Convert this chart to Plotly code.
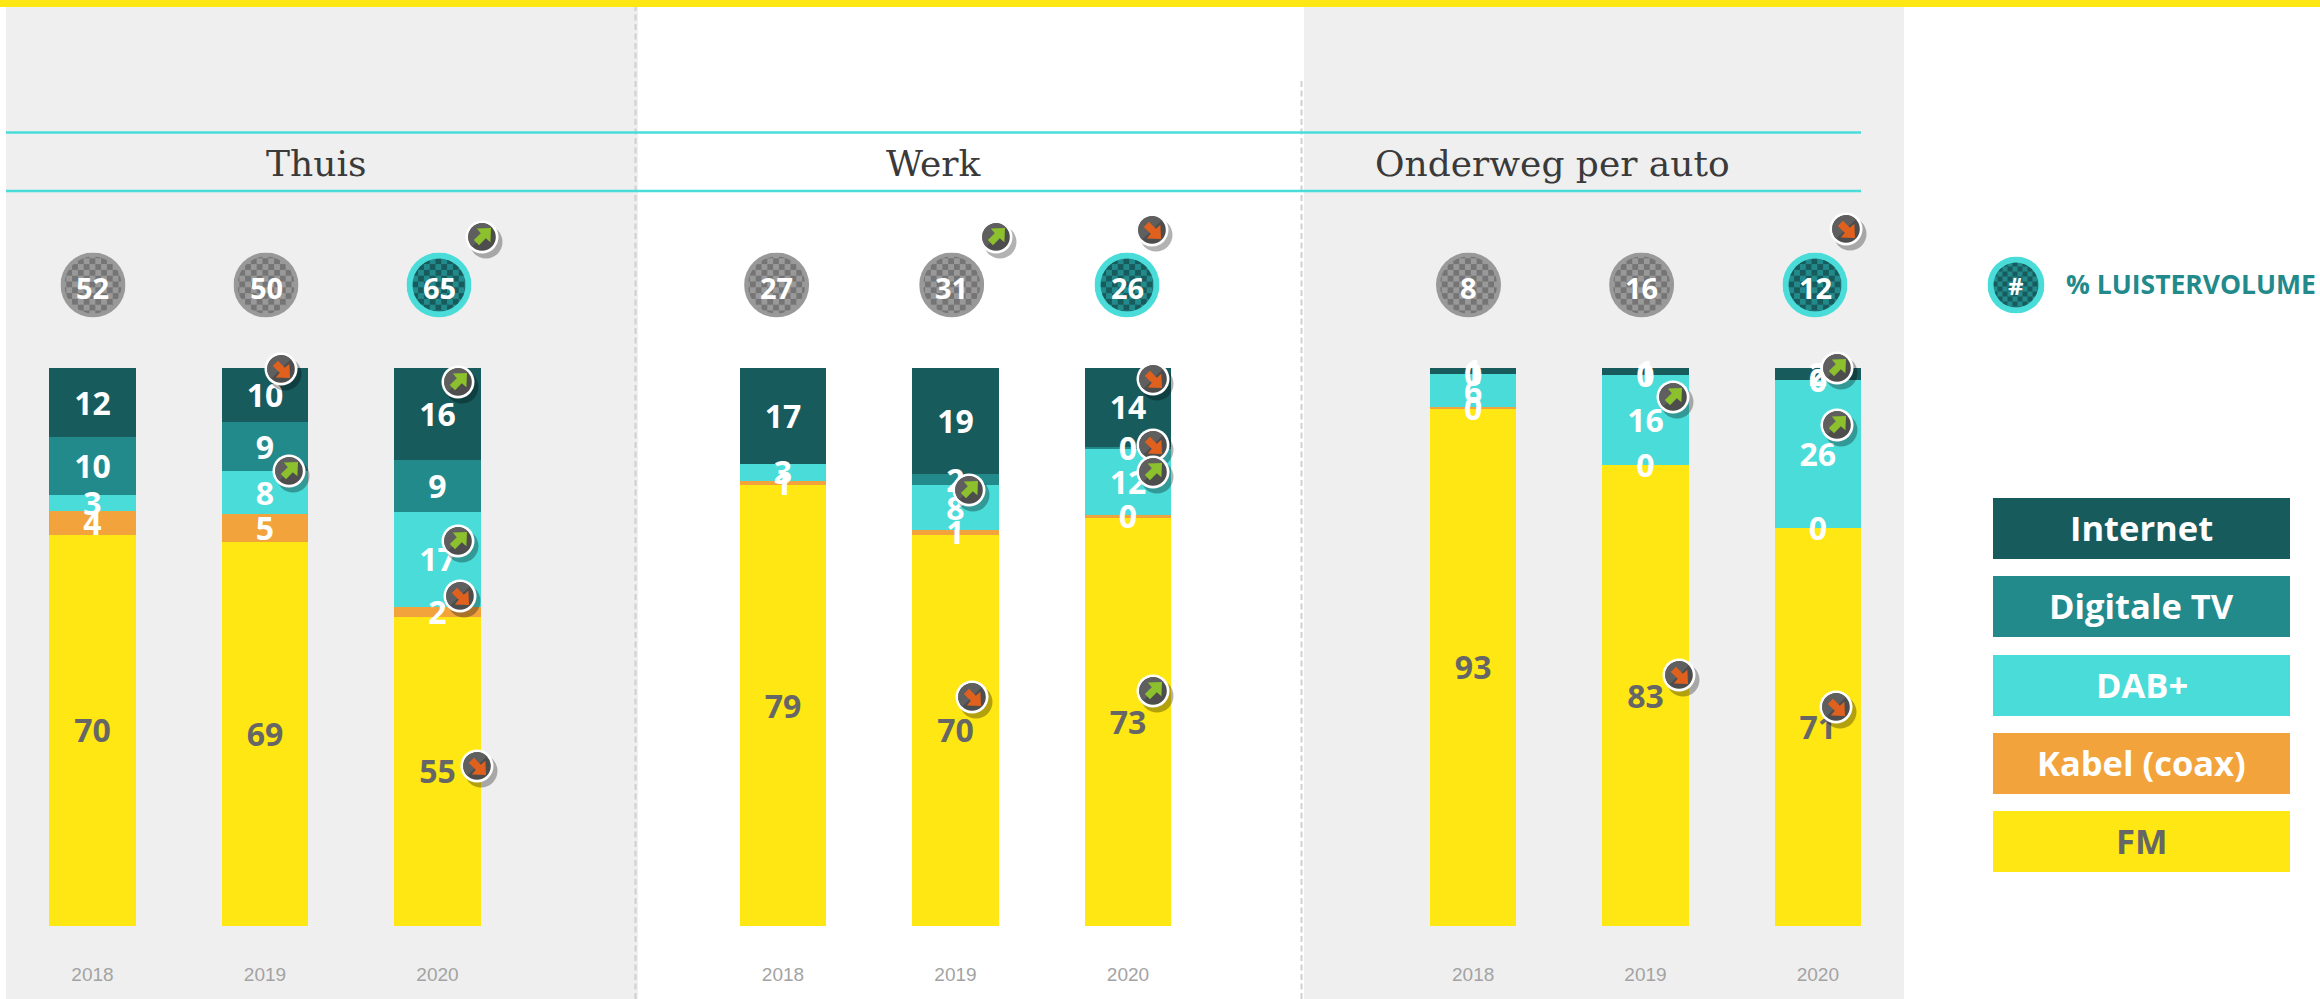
import base64
import plotly.graph_objects as go

W, H = 2320, 999

# ---------- data ----------
years = ["2018", "2019", "2020"]
panels = ["Thuis", "Werk", "Onderweg per auto"]
series = ["Internet", "Digitale TV", "DAB+", "Kabel (coax)", "FM"]

thuis_internet = [12.4, 9.7, 16.4]
thuis_digitale = [10.4, 8.8, 9.3]
thuis_dab = [2.9, 7.7, 17.0]
thuis_kabel = [4.2, 5.0, 1.8]
thuis_fm = [70.1, 68.8, 55.4]

werk_internet = [17.2, 19.0, 14.1]
werk_digitale = [None, 2.0, 0.3]
werk_dab = [3.0, 8.0, 12.0]
werk_kabel = [0.8, 0.9, 0.4]
werk_fm = [79.0, 70.1, 73.2]

auto_internet = [1.1, 1.3, 2.2]
auto_digitale = [0.0, 0.0, 0.0]
auto_dab = [5.9, 16.1, 26.4]
auto_kabel = [0.2, 0.0, 0.0]
auto_fm = [92.8, 82.6, 71.4]

totals_thuis = [52, 50, 65]
totals_werk = [27, 31, 26]
totals_auto = [8, 16, 12]

# ---------- styles ----------
colors = ["#185B5D", "#238A8C", "#4ADCD9", "#F2A33C", "#FFE713"]
label_colors = ["#FFFFFF", "#FFFFFF", "#FFFFFF", "#FFFFFF", "#666666"]
TEAL = "#4ADCD9"
PANEL = "#EFEFEF"
SANS = "Open Sans"

panel_data = [
    [thuis_internet, thuis_digitale, thuis_dab, thuis_kabel, thuis_fm],
    [werk_internet, werk_digitale, werk_dab, werk_kabel, werk_fm],
    [auto_internet, auto_digitale, auto_dab, auto_kabel, auto_fm],
]
panel_totals = [totals_thuis, totals_werk, totals_auto]
x_spans = [(6.25, 523.75), (696.75, 1214.25), (1387, 1904)]
circle_x = [[93, 266, 439], [776.6, 951.7, 1127], [1468.5, 1641.6, 1815]]
title_x = [316, 934, 1552]
CIRCLE_Y = 285
BAR_TOP, BAR_BOTTOM = 368, 926
LABEL_DROP = 4 / (BAR_BOTTOM - BAR_TOP) * 100


def px(x):
    return x / W


def py(y):
    return 1 - y / H


def uri(svg):
    return "data:image/svg+xml;base64," + base64.b64encode(svg.encode()).decode()


def circle_svg(ring, dark, light, ring_w, size=65, cell=5.8):
    r = size / 2
    return uri(
        f'<svg xmlns="http://www.w3.org/2000/svg" width="{size}" height="{size}" viewBox="0 0 {size} {size}">'
        f'<defs><pattern id="p" width="{2*cell}" height="{2*cell}" patternUnits="userSpaceOnUse">'
        f'<rect width="{2*cell}" height="{2*cell}" fill="{light}"/>'
        f'<rect width="{cell}" height="{cell}" fill="{dark}"/>'
        f'<rect x="{cell}" y="{cell}" width="{cell}" height="{cell}" fill="{dark}"/>'
        f'</pattern></defs><circle cx="{r}" cy="{r}" r="{r}" fill="{ring}"/>'
        f'<circle cx="{r}" cy="{r}" r="{r-ring_w}" fill="url(#p)"/></svg>'
    )


def badge_svg(up):
    fill = "#8CC02C" if up else "#E0611E"
    rot = 0 if up else 90
    return uri(
        '<svg xmlns="http://www.w3.org/2000/svg" width="48" height="48" viewBox="-24 -24 48 48">'
        '<circle cx="4" cy="5" r="16.5" fill="#000" fill-opacity="0.3"/>'
        '<circle r="16.5" fill="#fff"/><circle r="13.8" fill="#4D4D4D"/>'
        '<path d="M-13.8 0A13.8 13.8 0 0 1 9.8 -9.8L-9.8 9.8A13.8 13.8 0 0 1 -13.8 0Z" fill="#5F5F5F"/>'
        f'<path transform="rotate({rot})" d="M9 -9L8.4 5.2L3.8 1.2L-3 8.2L-8.2 3L-1.2 -3.8L-5.2 -8.4Z" fill="{fill}"/>'
        '</svg>'
    )


GRAY = circle_svg("#999999", "#757575", "#999999", 4)
TEALC = circle_svg(TEAL, "#185B5D", "#238A8C", 6)

# trend badges: direction and centre in the picture
badges = [
    (True, 482, 237), (False, 281, 369), (True, 289, 471), (True, 458, 382),
    (True, 458, 541), (False, 460, 596), (False, 477, 766),
    (True, 996, 237), (False, 1152, 230), (True, 969, 490), (False, 1153, 379),
    (False, 1153, 445), (True, 1153, 472), (False, 972, 697), (True, 1153, 691),
    (False, 1846, 229), (True, 1673, 397), (True, 1837, 368), (True, 1837, 425),
    (False, 1679, 675), (False, 1836, 707),
]

fig = go.Figure()
shapes, annotations, images = [], [], []

# panels and rules under the chart
for x0, x1 in [(6, 638), (1304, 1904)]:
    shapes.append(dict(type="rect", xref="paper", yref="paper", x0=px(x0), x1=px(x1), y0=0, y1=py(7),
                       fillcolor=PANEL, line_width=0, layer="below"))
shapes.append(dict(type="rect", xref="paper", yref="paper", x0=0, x1=1, y0=py(7), y1=1,
                   fillcolor="#FFE713", line_width=0, layer="below"))
for x, top in [(635.5, 7), (1301.5, 79)]:
    shapes.append(dict(type="line", xref="paper", yref="paper", x0=px(x), x1=px(x), y0=0, y1=py(top),
                       line=dict(color="#D0D0D0", width=2, dash="6px,3.5px"), layer="below"))
for y in (132.5, 191):
    shapes.append(dict(type="line", xref="paper", yref="paper", x0=px(6), x1=px(1861), y0=py(y), y1=py(y),
                       line=dict(color=TEAL, width=2.5), layer="below"))

# stacked bars and their value labels
for p, data in enumerate(panel_data):
    suffix = "" if p == 0 else str(p + 1)
    xa, ya = "x" + suffix, "y"
    for s in reversed(range(5)):
        fig.add_trace(go.Bar(x=years, y=data[s], name=series[s], marker=dict(color=colors[s], line_width=0),
                             xaxis=xa, yaxis=ya, hoverinfo="skip", showlegend=False))
    lx, ly, lt, lc = [], [], [], []
    for i, year in enumerate(years):
        vals = [data[s][i] for s in range(5)]
        total = sum(v or 0 for v in vals)
        base = 0.0
        for s in reversed(range(5)):
            v = vals[s]
            if v is None:
                continue
            share = v / total * 100
            lx.append(year)
            ly.append(base + share / 2 - LABEL_DROP)
            lt.append(f"{int(v + 0.5)}")
            lc.append(label_colors[s])
            base += share
    fig.add_trace(go.Scatter(x=lx, y=ly, text=lt, mode="text", xaxis=xa, yaxis=ya, cliponaxis=False,
                             textposition="middle center", hoverinfo="skip", showlegend=False,
                             textfont=dict(family=SANS, size=32, color=lc, weight="bold")))
    x0, x1 = x_spans[p]
    fig.update_layout({
        "xaxis" + suffix: dict(domain=[px(x0), px(x1)], type="category", categoryorder="array", categoryarray=years,
                               range=[-0.5, 2.5], anchor="y", showgrid=False, zeroline=False, showline=False,
                               ticks="outside", ticklen=31, tickcolor="rgba(0,0,0,0)", fixedrange=True,
                               tickfont=dict(family="Liberation Sans", size=19, color="#A3A3A3")),
    })
    # panel title
    annotations.append(dict(xref="paper", yref="paper", x=px(title_x[p]), y=py(163), text=panels[p], showarrow=False,
                            xanchor="center", yanchor="middle",
                            font=dict(family="DejaVu Serif", size=36, color="#3A3A3A")))
    # total circles
    for i, total in enumerate(panel_totals[p]):
        images.append(dict(source=TEALC if i == 2 else GRAY, xref="paper", yref="paper", x=px(circle_x[p][i]),
                           y=py(CIRCLE_Y), sizex=px(65), sizey=65 / H, xanchor="center", yanchor="middle",
                           sizing="stretch", layer="above"))
        annotations.append(dict(xref="paper", yref="paper", x=px(circle_x[p][i]), y=py(CIRCLE_Y + 2), text=str(total),
                                showarrow=False, xanchor="center", yanchor="middle",
                                font=dict(family=SANS, size=29, color="#FFFFFF", weight="bold")))

for up, x, y in badges:
    images.append(dict(source=badge_svg(up), xref="paper", yref="paper", x=px(x), y=py(y), sizex=px(48), sizey=48 / H,
                       xanchor="center", yanchor="middle", sizing="stretch", layer="above"))

# legend
legend_rows = [(498, 559), (576, 637), (655, 716), (733, 794), (811, 872)]
for s, (y0, y1) in enumerate(legend_rows):
    shapes.append(dict(type="rect", xref="paper", yref="paper", x0=px(1993), x1=px(2290), y0=py(y1), y1=py(y0),
                       fillcolor=colors[s], line_width=0, layer="below"))
    annotations.append(dict(xref="paper", yref="paper", x=px(2141.5), y=py((y0 + y1) / 2 - 1), text=series[s],
                            showarrow=False, xanchor="center", yanchor="middle",
                            font=dict(family=SANS, size=34.5, color=label_colors[s], weight="bold")))
images.append(dict(source=circle_svg(TEAL, "#185B5D", "#238A8C", 6, size=57, cell=5), xref="paper", yref="paper",
                   x=px(2016), y=py(285), sizex=px(57), sizey=57 / H, xanchor="center", yanchor="middle",
                   sizing="stretch", layer="above"))
annotations.append(dict(xref="paper", yref="paper", x=px(2016), y=py(285), text="#", showarrow=False,
                        xanchor="center", yanchor="middle",
                        font=dict(family=SANS, size=24, color="#FFFFFF", weight="bold")))
annotations.append(dict(xref="paper", yref="paper", x=px(2064), y=py(284), text="% LUISTERVOLUME", showarrow=False,
                        xanchor="left", yanchor="middle", font=dict(family=SANS, size=26.5, color="#238A8C", weight="bold")))

fig.update_layout(
    width=W, height=H, margin=dict(l=0, r=0, t=0, b=0), paper_bgcolor="#FFFFFF", plot_bgcolor="rgba(0,0,0,0)",
    barmode="stack", barnorm="percent", bargap=0.5, showlegend=False,
    yaxis=dict(domain=[py(BAR_BOTTOM), py(BAR_TOP)], range=[0, 100], visible=False, fixedrange=True),
    shapes=shapes, annotations=annotations, images=images,
)
fig.write_html("out.html", config=dict(displayModeBar=False),
               post_script="document.body.style.margin='0';document.documentElement.style.overflow='hidden';")
